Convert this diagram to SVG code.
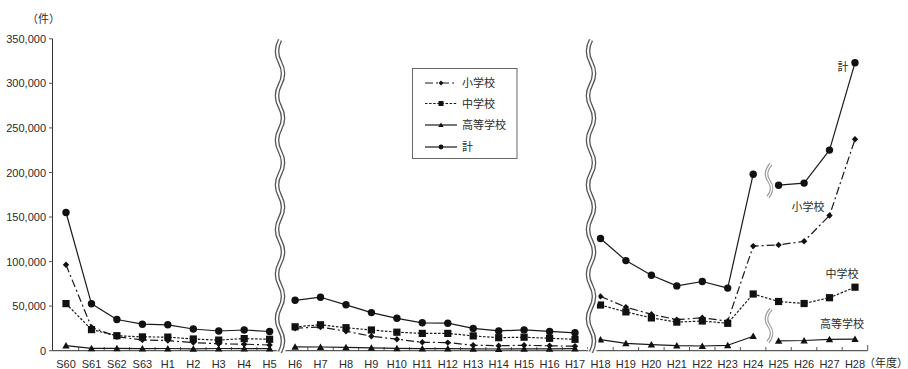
<svg xmlns="http://www.w3.org/2000/svg" width="908" height="369" viewBox="0 0 908 369">
<style>
text{font-family:"Liberation Sans","Noto Sans CJK JP",sans-serif;font-size:11px;fill:#2a2a2a}
.yl{text-anchor:end}
.xl{text-anchor:middle}
.ax{stroke:#333;stroke-width:1;fill:none}
.tk{stroke:#444;stroke-width:0.9}
.s{fill:none;stroke:#1a1a1a;stroke-width:1.2;stroke-linejoin:round}
.kei{marker-start:url(#mc);marker-mid:url(#mc);marker-end:url(#mc)}
.sho{stroke-dasharray:8 3 2 3;marker-start:url(#md);marker-mid:url(#md);marker-end:url(#md)}
.chu{stroke-dasharray:2.5 1.6;marker-start:url(#ms);marker-mid:url(#ms);marker-end:url(#ms)}
.kou{marker-start:url(#mt);marker-mid:url(#mt);marker-end:url(#mt)}
.lg .kei{marker:none;marker-mid:url(#mcS)}
.lg .sho{marker:none;marker-mid:url(#mdS)}
.lg .chu{marker:none;marker-mid:url(#msS)}
.lg .kou{marker:none;marker-mid:url(#mtS)}
.wcut{fill:none;stroke:#fff;stroke-width:9}
.wout{fill:none;stroke:#555;stroke-width:4.6}
.win{fill:none;stroke:#fff;stroke-width:2}
.gout{fill:none;stroke:#9a9a9a;stroke-width:3.6}
.gin{fill:none;stroke:#fff;stroke-width:1.3}
</style>
<defs>
<marker id="mc" viewBox="-5 -5 10 10" markerWidth="10" markerHeight="10" markerUnits="userSpaceOnUse"><circle r="3.7" fill="#111"/></marker>
<marker id="md" viewBox="-5 -5 10 10" markerWidth="10" markerHeight="10" markerUnits="userSpaceOnUse"><path d="M0,-3.2L3.2,0L0,3.2L-3.2,0Z" fill="#111"/></marker>
<marker id="ms" viewBox="-5 -5 10 10" markerWidth="10" markerHeight="10" markerUnits="userSpaceOnUse"><rect x="-3.6" y="-3.6" width="7.2" height="7.2" fill="#111"/></marker>
<marker id="mt" viewBox="-5 -5 10 10" markerWidth="10" markerHeight="10" markerUnits="userSpaceOnUse"><path d="M0,-3.6L3.7,2.9L-3.7,2.9Z" fill="#111"/></marker>
<marker id="mcS" viewBox="-5 -5 10 10" markerWidth="10" markerHeight="10" markerUnits="userSpaceOnUse"><circle r="2.4" fill="#111"/></marker>
<marker id="mdS" viewBox="-5 -5 10 10" markerWidth="10" markerHeight="10" markerUnits="userSpaceOnUse"><path d="M0,-2.4L2.4,0L0,2.4L-2.4,0Z" fill="#111"/></marker>
<marker id="msS" viewBox="-5 -5 10 10" markerWidth="10" markerHeight="10" markerUnits="userSpaceOnUse"><rect x="-2.5" y="-2.5" width="5" height="5" fill="#111"/></marker>
<marker id="mtS" viewBox="-5 -5 10 10" markerWidth="10" markerHeight="10" markerUnits="userSpaceOnUse"><path d="M0,-2.6L2.7,2.1L-2.7,2.1Z" fill="#111"/></marker>
</defs>
<rect width="908" height="369" fill="#fff"/>

<g id="axes">
<path class="ax" d="M52.5,38.8V350.7H867.7"/>
<path class="tk" d="M49,38.8H52.5M49,83.3H52.5M49,127.9H52.5M49,172.5H52.5M49,217H52.5M49,261.6H52.5M49,306.1H52.5M49,350.7H52.5"/>
<path class="tk" d="M78.7,347V350.7M104.2,347V350.7M129.6,347V350.7M155.1,347V350.7M180.5,347V350.7M206,347V350.7M231.4,347V350.7M256.9,347V350.7M282.3,347V350.7M307.8,347V350.7M333.2,347V350.7M358.7,347V350.7M384.1,347V350.7M409.6,347V350.7M435,347V350.7M460.5,347V350.7M485.9,347V350.7M511.4,347V350.7M536.8,347V350.7M562.3,347V350.7M587.7,347V350.7M613.2,347V350.7M638.6,347V350.7M664.1,347V350.7M689.5,347V350.7M715,347V350.7M740.4,347V350.7M765.9,347V350.7M791.3,347V350.7M816.8,347V350.7M842.2,347V350.7M867.7,345V350.7"/>
</g>

<g id="y-labels">
<text class="yl" x="46" y="42.8">350,000</text>
<text class="yl" x="46" y="87.3">300,000</text>
<text class="yl" x="46" y="131.9">250,000</text>
<text class="yl" x="46" y="176.5">200,000</text>
<text class="yl" x="46" y="221">150,000</text>
<text class="yl" x="46" y="265.6">100,000</text>
<text class="yl" x="46" y="310.1">50,000</text>
<text class="yl" x="46" y="354.7">0</text>
<text x="27" y="23">（件）</text>
</g>

<g id="x-labels">
<text class="xl" x="66" y="367.5">S60</text>
<text class="xl" x="91.5" y="367.5">S61</text>
<text class="xl" x="116.9" y="367.5">S62</text>
<text class="xl" x="142.4" y="367.5">S63</text>
<text class="xl" x="167.8" y="367.5">H1</text>
<text class="xl" x="193.3" y="367.5">H2</text>
<text class="xl" x="218.7" y="367.5">H3</text>
<text class="xl" x="244.2" y="367.5">H4</text>
<text class="xl" x="269.6" y="367.5">H5</text>
<text class="xl" x="295.1" y="367.5">H6</text>
<text class="xl" x="320.5" y="367.5">H7</text>
<text class="xl" x="346" y="367.5">H8</text>
<text class="xl" x="371.4" y="367.5">H9</text>
<text class="xl" x="396.9" y="367.5">H10</text>
<text class="xl" x="422.3" y="367.5">H11</text>
<text class="xl" x="447.8" y="367.5">H12</text>
<text class="xl" x="473.2" y="367.5">H13</text>
<text class="xl" x="498.7" y="367.5">H14</text>
<text class="xl" x="524.1" y="367.5">H15</text>
<text class="xl" x="549.6" y="367.5">H16</text>
<text class="xl" x="575" y="367.5">H17</text>
<text class="xl" x="600.5" y="367.5">H18</text>
<text class="xl" x="625.9" y="367.5">H19</text>
<text class="xl" x="651.4" y="367.5">H20</text>
<text class="xl" x="676.8" y="367.5">H21</text>
<text class="xl" x="702.3" y="367.5">H22</text>
<text class="xl" x="727.7" y="367.5">H23</text>
<text class="xl" x="753.2" y="367.5">H24</text>
<text class="xl" x="778.6" y="367.5">H25</text>
<text class="xl" x="804.1" y="367.5">H26</text>
<text class="xl" x="829.5" y="367.5">H27</text>
<text class="xl" x="855" y="367.5">H28</text>
<text x="864" y="367" font-size="10">（年度）</text>
</g>

<g id="series-kou">
<polyline class="s kou" points="66,345.6 91.5,348.4 116.9,348.4 142.4,348.7 167.8,348.5 193.3,348.8 218.7,348.5 244.2,348.6 269.6,348.6"/>
<polyline class="s kou" points="295.1,346.9 320.5,347 346,347.3 371.4,347.9 396.9,348.4 422.3,348.6 447.8,348.6 473.2,348.8 498.7,349 524.1,348.9 549.6,348.8 575,348.7"/>
<polyline class="s kou" points="600.5,339.7 625.9,343.3 651.4,344.7 676.8,345.7 702.3,346 727.7,345.3 753.2,336.2"/>
<polyline class="s kou" points="778.6,340.9 804.1,340.5 829.5,339.4 855,339.2"/>
</g>

<g id="series-chu">
<polyline class="s chu" points="66,303.6 91.5,329.6 116.9,335.7 142.4,336.9 167.8,337.1 193.3,339 218.7,340.1 244.2,338.6 269.6,339.3"/>
<polyline class="s chu" points="295.1,326.8 320.5,324.8 346,327.7 371.4,330 396.9,332.2 422.3,333.4 447.8,333.4 473.2,335.9 498.7,337.7 524.1,337.2 549.6,338.3 575,339.3"/>
<polyline class="s chu" points="600.5,305 625.9,311.9 651.4,317.9 676.8,322.1 702.3,321 727.7,323.3 753.2,294 778.6,301.5 804.1,303.5 829.5,297.7 855,287.2"/>
</g>

<g id="series-sho">
<polyline class="s sho" points="66,264.8 91.5,327.3 116.9,336.7 142.4,339.9 167.8,340.6 193.3,342.6 218.7,343.8 244.2,344.2 269.6,345"/>
<polyline class="s sho" points="295.1,328.2 320.5,327 346,331.3 371.4,336.2 396.9,339.2 422.3,342.3 447.8,342.6 473.2,345.2 498.7,345.7 524.1,345.3 549.6,345.8 575,346.2"/>
<polyline class="s sho" points="600.5,296.4 625.9,307.1 651.4,314.3 676.8,319.7 702.3,317.8 727.7,321.2 753.2,246.1 778.6,244.9 804.1,241.3 829.5,215.5 855,139.3"/>
</g>

<g id="series-kei">
<polyline class="s kei" points="66,212.5 91.5,303.8 116.9,319.5 142.4,324.2 167.8,324.8 193.3,329 218.7,331 244.2,330 269.6,331.5"/>
<polyline class="s kei" points="295.1,300.3 320.5,297.2 346,304.8 371.4,312.6 396.9,318.3 422.3,322.8 447.8,323.2 473.2,328.4 498.7,330.9 524.1,329.9 549.6,331.4 575,332.8"/>
<polyline class="s kei" points="600.5,238.5 625.9,260.6 651.4,275.3 676.8,285.9 702.3,281.5 727.7,288.1 753.2,174.2"/>
<polyline class="s kei" points="778.6,185.2 804.1,183.1 829.5,150.1 855,62.8"/>
</g>

<g id="breaks">
<path class="wcut" d="M280,40 q-6,11.15 0,22.3 t0,22.3 t0,22.3 t0,22.3 t0,22.3 t0,22.3 t0,22.3 t0,22.3 t0,22.3 t0,22.3 t0,22.3 t0,22.3 t0,22.3 t0,22.3"/>
<path class="wout" d="M280,40 q-6,11.15 0,22.3 t0,22.3 t0,22.3 t0,22.3 t0,22.3 t0,22.3 t0,22.3 t0,22.3 t0,22.3 t0,22.3 t0,22.3 t0,22.3 t0,22.3 t0,22.3"/>
<path class="win" d="M280,40 q-6,11.15 0,22.3 t0,22.3 t0,22.3 t0,22.3 t0,22.3 t0,22.3 t0,22.3 t0,22.3 t0,22.3 t0,22.3 t0,22.3 t0,22.3 t0,22.3 t0,22.3"/>
<path class="wcut" d="M591,40 q-6,11.15 0,22.3 t0,22.3 t0,22.3 t0,22.3 t0,22.3 t0,22.3 t0,22.3 t0,22.3 t0,22.3 t0,22.3 t0,22.3 t0,22.3 t0,22.3 t0,22.3"/>
<path class="wout" d="M591,40 q-6,11.15 0,22.3 t0,22.3 t0,22.3 t0,22.3 t0,22.3 t0,22.3 t0,22.3 t0,22.3 t0,22.3 t0,22.3 t0,22.3 t0,22.3 t0,22.3 t0,22.3"/>
<path class="win" d="M591,40 q-6,11.15 0,22.3 t0,22.3 t0,22.3 t0,22.3 t0,22.3 t0,22.3 t0,22.3 t0,22.3 t0,22.3 t0,22.3 t0,22.3 t0,22.3 t0,22.3 t0,22.3"/>
<path class="gout" d="M771,164 C765,171 766,177 769,181 S773,191 768,197"/>
<path class="gin" d="M771,164 C765,171 766,177 769,181 S773,191 768,197"/>
<path class="gout" d="M771,309 C765,316 766,322 769,326 S773,336 768,342"/>
<path class="gin" d="M771,309 C765,316 766,322 769,326 S773,336 768,342"/>
</g>

<g id="legend" class="lg">
<rect x="412.5" y="68.5" width="104.5" height="90" fill="#fff" stroke="#666" stroke-width="1"/>
<polyline class="s sho" points="425,83 441,83 457,83"/>
<text x="462" y="87">小学校</text>
<polyline class="s chu" points="425,103.5 441,103.5 457,103.5"/>
<text x="462" y="107.5">中学校</text>
<polyline class="s kou" points="425,125 441,125 457,125"/>
<text x="462" y="129">高等学校</text>
<polyline class="s kei" points="425,147 441,147 457,147"/>
<text x="462" y="151">計</text>
</g>

<g id="series-labels">
<text class="xl" x="843" y="71">計</text>
<text class="xl" x="808" y="210.5">小学校</text>
<text class="xl" x="842" y="278">中学校</text>
<text class="xl" x="842" y="328">高等学校</text>
</g>
</svg>
